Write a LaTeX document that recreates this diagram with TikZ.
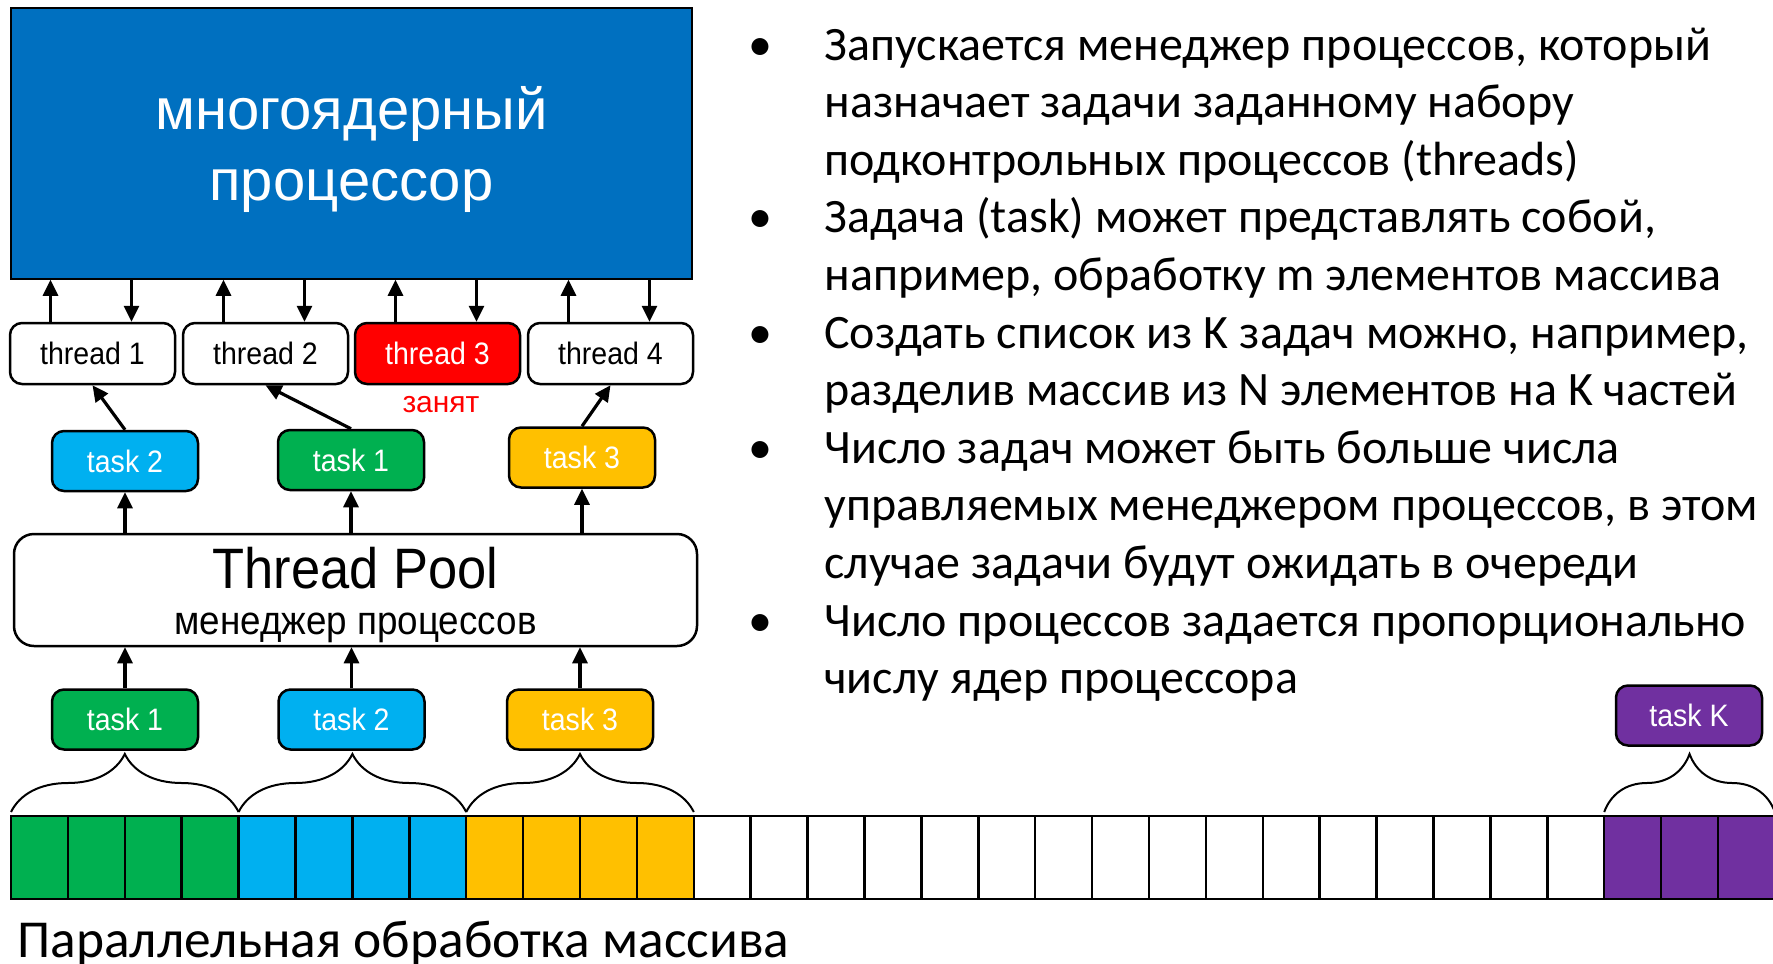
\documentclass[tikz,border=0pt]{standalone}
\usepackage{fontspec}
\setmainfont{Carlito}
\newfontfamily\arialfont{Liberation Sans}
\newfontfamily\narrowfont[FakeStretch=0.92]{Liberation Sans}
\usetikzlibrary{arrows.meta,decorations.pathreplacing}

\definecolor{cpublue}{HTML}{0070C0}
\definecolor{taskgreen}{HTML}{00B050}
\definecolor{taskcyan}{HTML}{00B0F0}
\definecolor{taskyellow}{HTML}{FFC000}
\definecolor{taskpurple}{HTML}{7030A0}
\definecolor{busyred}{HTML}{FF0000}

\begin{document}
\begin{tikzpicture}[x=0.5pt, y=-0.5pt, >={Triangle[length=8pt,width=7.5pt]},
  box/.style={draw, line width=1.25pt, rounded corners=6pt, inner sep=0pt,
    font=\narrowfont\fontsize{15.5}{19}\selectfont},
  thread/.style={box, fill=white, minimum width=82.5pt, minimum height=30.5pt},
  task/.style={box, text=white, minimum width=73pt, minimum height=30pt},
  link/.style={->, line width=1.6pt},
  cell/.style={draw, line width=1.25pt, minimum width=28.45pt, minimum height=41.5pt,
    inner sep=0pt, outer sep=0pt},
  bracket/.style={decorate, decoration={brace, amplitude=29pt}, line width=1pt},
  point/.style={anchor=base west, align=left, inner sep=0pt,
    font=\fontsize{24}{28.8}\selectfont},
  dot/.style={anchor=base, inner sep=0pt, font=\fontsize{24}{28.8}\selectfont}]

\useasboundingbox (0,0) rectangle (1773,964);

% processor
\node[draw, line width=0.75pt, fill=cpublue, minimum width=340.5pt,
  minimum height=135.5pt] (cpu) at (351.5,143.5) {};
\node[text=white, align=center, font=\arialfont\fontsize{29}{35.5}\selectfont]
  (cpulabel) at ([yshift=-2.8pt]cpu.center) {многоядерный\\процессор};

% threads
\node[thread] (th1) at (92.5,353.5) {thread 1};
\node[thread] (th2) at (265.5,353.5) {thread 2};
\node[thread, fill=busyred, text=white] (th3) at (437.5,353.5) {thread 3};
\node[thread] (th4) at (610.5,353.5) {thread 4};
\node[text=busyred, font=\arialfont\fontsize{15}{18}\selectfont] (busy) at (441,405) {занят};

\foreach \t in {th1,th2,th3,th4} {
  \draw[link] ([xshift=-21pt]\t.north) -- ([xshift=-21pt]\t.north |- cpu.south);
  \draw[link] ([xshift=19.5pt]\t.north |- cpu.south) -- ([xshift=19.5pt]\t.north);
}

% tasks handed to threads
\node[task, fill=taskcyan] (up2) at (125,461) {task 2};
\node[task, fill=taskgreen] (up1) at (351,460) {task 1};
\node[task, fill=taskyellow] (up3) at (582,457.5) {task 3};
\draw[link] (up2.north) -- (th1.south);
\draw[link] (up1.north) -- (th2.south);
\draw[link] (up3.north) -- (th4.south);

% pool
\node[draw, line width=1.25pt, rounded corners=10pt, minimum width=341.5pt,
  minimum height=56pt] (pool) at (355.5,590) {};
\node[font=\narrowfont\fontsize{28.5}{34}\selectfont] (pooltitle)
  at ([yshift=11pt]pool.center) {Thread Pool};
\node[font=\narrowfont\fontsize{20}{24}\selectfont] (poolsub)
  at ([yshift=-18.8pt]pool.center) {менеджер процессов};
\draw[link] (up2.south |- pool.north) -- (up2.south);
\draw[link] (up1.south |- pool.north) -- (up1.south);
\draw[link] (up3.south |- pool.north) -- (up3.south);

% task queue
\node[task, fill=taskgreen] (lo1) at (125,719.5) {task 1};
\node[task, fill=taskcyan] (lo2) at (351.5,719.5) {task 2};
\node[task, fill=taskyellow] (lo3) at (580,719.5) {task 3};
\node[task, fill=taskpurple] (lok) at (1689,715.5) {task K};
\draw[link] (lo1.north) -- (lo1.north |- pool.south);
\draw[link] (lo2.north) -- (lo2.north |- pool.south);
\draw[link] (lo3.north) -- (lo3.north |- pool.south);

% array of N elements
\foreach \i in {0,...,30} {
  \ifnum\i<4 \def\c{taskgreen}\else
  \ifnum\i<8 \def\c{taskcyan}\else
  \ifnum\i<12 \def\c{taskyellow}\else
  \ifnum\i<28 \def\c{white}\else \def\c{taskpurple}\fi\fi\fi\fi
  \node[cell, fill=\c] (c\i) at ({11+(\i+0.5)*56.9},857.5) {};
}
\draw[bracket] ([yshift=2pt]c0.north west) -- ([yshift=2pt]c3.north east);
\draw[bracket] ([yshift=2pt]c4.north west) -- ([yshift=2pt]c7.north east);
\draw[bracket] ([yshift=2pt]c8.north west) -- ([yshift=2pt]c11.north east);
\draw[bracket] ([yshift=2pt]c28.north west) -- ([yshift=2pt]c30.north east);

\node[anchor=base west, inner sep=0pt, font=\fontsize{26.7}{32}\selectfont] (caption)
  at (17,957) {Параллельная обработка массива};

% notes (anchored at the baseline of each last line)
\node[dot] (d1) at (760,60) {•};
\node[point] (p1) at (824,175.2) {Запускается менеджер процессов, который\\
  назначает задачи заданному набору\\подконтрольных процессов (threads)};
\node[dot] (d2) at (760,232.8) {•};
\node[point] (p2) at (824,290.4) {Задача (task) может представлять собой,\\
  например, обработку m элементов массива};
\node[dot] (d3) at (760,348) {•};
\node[point] (p3) at (824,405.6) {Создать список из K задач можно, например,\\
  разделив массив из N элементов на K частей};
\node[dot] (d4) at (760,463.2) {•};
\node[point] (p4) at (824,578.4) {Число задач может быть больше числа\\
  управляемых менеджером процессов, в этом\\случае задачи будут ожидать в очереди};
\node[dot] (d5) at (760,636) {•};
\node[point] (p5) at (824,693.6) {Число процессов задается пропорционально\\
  числу ядер процессора};
\end{tikzpicture}
\end{document}
